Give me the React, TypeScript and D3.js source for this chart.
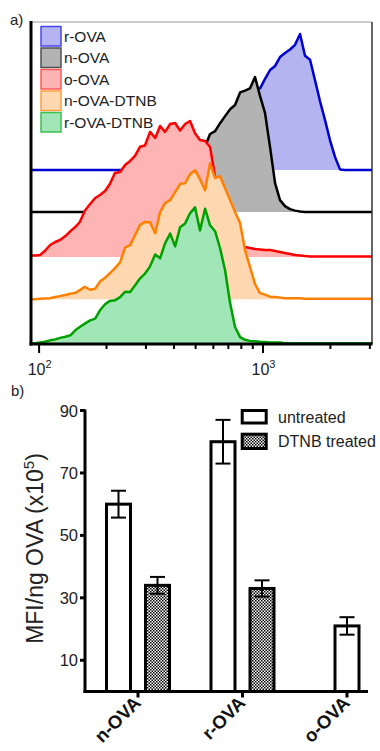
import React, { useEffect, useRef } from 'react';
import * as d3 from 'd3';

// panel a: histogram bins (fluorescence) and normalised counts (% of max)
const bins = [92, 96, 101, 106, 112, 118, 124, 131, 138, 145,
  152, 160, 169, 178, 187, 197, 207, 218, 230, 242,
  255, 268, 282, 297, 313, 330, 347, 365, 385, 405,
  426, 449, 472, 497, 523, 551, 580, 611, 643, 677,
  713, 750, 790, 831, 875, 921, 970, 1021, 1075, 1132,
  1191, 1254, 1320, 1390, 1463, 1540, 1622, 1707, 1796, 1891,
  1991, 2096, 2207, 2323, 2445, 2574, 2710, 2853, 3003, 3067];

const rOVA = [0, 0, 0, 0, 0, 0, 0, 0, 0, 0,
  0, 0, 0, 0, 0, 0, 0, 0, 0, 0,
  0, 0, 0, 0, 0, 0, 0, 0, 0, 0,
  0, 0, 0, 0, 3, 6, 10, 15, 21, 27,
  33, 40, 46, 52, 56, 60, 60, 67, 73.5, 76.5,
  83, 86, 88.6, 92, 100, 84, 81, 66, 50.7, 36.8,
  22, 9.6, 0.4, 0, 0, 0, 0, 0, 0, 0];

const nOVA = [0, 0, 0, 0, 0, 0, 0, 0, 0, 0,
  0, 0, 0, 0, 0, 0, 0, 0, 0, 0.5,
  1.5, 3, 5, 7.5, 10, 13, 16, 19.5, 23, 26.5,
  30, 33.5, 37, 40.5, 44, 48, 57.4, 59.6, 65.4, 70.6,
  75.7, 78.7, 88, 89.3, 91, 99.3, 85.3, 72.8, 47.8, 21.3,
  8.8, 4.4, 2.2, 1.1, 0.4, 0, 0, 0, 0, 0,
  0, 0, 0, 0, 0, 0, 0, 0, 0, 0];

const oOVA = [1, 1, 1.5, 4.4, 8.8, 11, 12.5, 15.4, 19, 22,
  25.7, 34, 39, 43.4, 45.6, 48.5, 53.7, 61.8, 62.5, 67.6,
  70.6, 74.3, 81, 82, 92, 87.5, 96.3, 92, 97.8, 98.5,
  93, 97.8, 100, 91, 86, 85.3, 80.9, 59, 45.6, 33,
  21, 14, 9.6, 7.4, 6.6, 5.9, 5.5, 5.1, 5.1, 4.4,
  3.7, 2.9, 2.2, 1.5, 1.1, 0.7, 0.4, 0.3, 0.3, 0.3,
  0.3, 0.3, 0.3, 0.3, 0.3, 0.3, 0.3, 0.3, 0.3, 0.3];

const nOVADTNB = [0, 0, 0.2, 0.4, 0.7, 1.5, 2.2, 3, 4, 4.6,
  6.6, 9, 6.9, 7.6, 12.9, 15.8, 19, 22.8, 27, 37.9,
  39.7, 47, 54.4, 56.8, 56.6, 48.5, 64, 70.6, 72.8, 78.7,
  84.6, 85.3, 91.9, 94.8, 88.2, 80, 100, 89, 90.4, 81.6,
  72.8, 64, 55.9, 36, 23.5, 11, 4.4, 3.3, 1.8, 1.5,
  1.1, 0.7, 0.7, 0.7, 0.7, 0.3, 0.3, 0.3, 0.3, 0.3,
  0.3, 0.3, 0.3, 0.3, 0.3, 0.3, 0.3, 0.3, 0.3, 0.3];

const rOVADTNB = [0, 0, 0.7, 1.1, 2.2, 2.9, 4, 4.8, 5.9, 9.6,
  12, 14.5, 16.9, 18.2, 24.3, 28.7, 31.2, 31.6, 34, 37.9,
  37.7, 42.6, 47.6, 51.2, 56.6, 65.4, 62.5, 73.5, 80.7, 71.3,
  85.3, 88.2, 95.6, 100, 83, 99, 86.8, 82.4, 69.9, 53.7,
  29.4, 12, 4.6, 2.6, 1.8, 1.5, 1.1, 1, 0.6, 0.6,
  0.6, 0, 0, 0, 0, 0, 0, 0, 0, 0,
  0, 0, 0, 0, 0, 0, 0, 0, 0, 0];

const histNames = ['r-OVA', 'n-OVA', 'o-OVA', 'n-OVA-DTNB', 'r-OVA-DTNB'];
const histTicks = [100, 200, 300, 400, 500, 600, 700, 800, 900, 1000, 2000, 3000];

// panel b: MFI per ng OVA (x10^5)
const groups = ['n-OVA', 'r-OVA', 'o-OVA'];
const untreated = [60, 80, 21];
const untreatedErr = [4.3, 7, 2.8];
const dtnbTreated = [34, 33, null];
const dtnbErr = [2.7, 2.6, null];
const barTicks = [10, 30, 50, 70, 90];

const FONT = '"Liberation Sans", Arial, Helvetica, sans-serif';

const App = () => {
  const svgRef = useRef(null);

  useEffect(() => {
    const svg = d3.select(svgRef.current);
    svg.selectAll('*').remove();

    const defs = svg.append('defs');
    const pat = defs.append('pattern')
      .attr('id', 'check')
      .attr('width', 3).attr('height', 3)
      .attr('patternUnits', 'userSpaceOnUse');
    pat.append('rect').attr('width', 3).attr('height', 3).attr('fill', '#fff');
    pat.append('rect').attr('width', 1.5).attr('height', 1.5).attr('fill', '#000');
    pat.append('rect').attr('x', 1.5).attr('y', 1.5).attr('width', 1.5).attr('height', 1.5).attr('fill', '#000');
    defs.append('clipPath').attr('id', 'clipA')
      .append('rect').attr('x', 31).attr('y', 22).attr('width', 341).attr('height', 322);

    // ---------- panel a ----------
    const x = d3.scaleLog().domain([92, 3067]).range([31, 372]);
    const y = d3.scaleLinear().domain([0, 236.8]).range([344, 22]);

    const series = [
      { name: 'r-OVA', values: rOVA, offset: 128, line: '#0000d0', fill: '#b4b4f0', box: '#4646f0' },
      { name: 'n-OVA', values: nOVA, offset: 97, line: '#000000', fill: '#b3b3b3', box: '#505050' },
      { name: 'o-OVA', values: oOVA, offset: 64, line: '#ff0000', fill: '#ffb4b4', box: '#ff5a5a' },
      { name: 'n-OVA-DTNB', values: nOVADTNB, offset: 33, line: '#ff8000', fill: '#ffd8b2', box: '#ffa040' },
      { name: 'r-OVA-DTNB', values: rOVADTNB, offset: 0.5, line: '#00a000', fill: '#a0e6b6', box: '#3cc050' },
    ];

    const plotA = svg.append('g').attr('clip-path', 'url(#clipA)');
    series.forEach(s => {
      const area = d3.area()
        .x((d, i) => x(bins[i]))
        .y0(y(s.offset))
        .y1(d => y(s.offset + d));
      const line = d3.line()
        .x((d, i) => x(bins[i]))
        .y(d => y(s.offset + d));
      plotA.append('path').attr('d', area(s.values)).attr('fill', s.fill);
      plotA.append('path').attr('d', line(s.values))
        .attr('fill', 'none').attr('stroke', s.line)
        .attr('stroke-width', 2.5).attr('stroke-linejoin', 'round');
    });

    // frame
    svg.append('line').attr('x1', 31).attr('x2', 372).attr('y1', 22).attr('y2', 22)
      .attr('stroke', '#999').attr('stroke-width', 1);
    svg.append('line').attr('x1', 372).attr('x2', 372).attr('y1', 22).attr('y2', 344)
      .attr('stroke', '#333').attr('stroke-width', 1.5);
    svg.append('line').attr('x1', 31).attr('x2', 31).attr('y1', 21).attr('y2', 345.5)
      .attr('stroke', '#000').attr('stroke-width', 3);
    svg.append('line').attr('x1', 29.5).attr('x2', 372.5).attr('y1', 344).attr('y2', 344)
      .attr('stroke', '#000').attr('stroke-width', 3);

    histTicks.forEach(t => {
      const major = t === 100 || t === 1000;
      svg.append('line')
        .attr('x1', x(t)).attr('x2', x(t))
        .attr('y1', 344).attr('y2', 344 + (major ? 9 : 5))
        .attr('stroke', '#000').attr('stroke-width', 2);
    });
    [[100, '2'], [1000, '3']].forEach(([t, p]) => {
      const txt = svg.append('text')
        .attr('x', x(t as number) + 0.5).attr('y', 375)
        .attr('text-anchor', 'middle')
        .attr('font-family', FONT).attr('font-size', 16).attr('fill', '#222');
      txt.append('tspan').text('10');
      txt.append('tspan').attr('dy', -7).attr('font-size', 11).text(p as string);
    });

    // legend a
    histNames.forEach((n, i) => {
      const s = series[i];
      svg.append('rect')
        .attr('x', 41).attr('y', 26.5 + i * 21.5)
        .attr('width', 20).attr('height', 19.5)
        .attr('fill', s.fill).attr('stroke', s.box).attr('stroke-width', 1.5);
      svg.append('text')
        .attr('x', 64).attr('y', 41.8 + i * 21.5)
        .attr('font-family', FONT).attr('font-size', 15.5).attr('fill', '#222')
        .text(n);
    });

    svg.append('text').attr('x', 10).attr('y', 25)
      .attr('font-family', FONT).attr('font-size', 15).attr('fill', '#222').text('a)');

    // ---------- panel b ----------
    const xb = d3.scalePoint().domain(groups).range([138, 347]);
    const yb = d3.scaleLinear().domain([0, 90]).range([691.5, 410.5]);
    const half = 19.5;
    const barW = 24;

    const bars = [];
    groups.forEach((g, i) => {
      const c = xb(g);
      if (dtnbTreated[i] == null) {
        bars.push({ cx: c, v: untreated[i], e: untreatedErr[i], fill: '#fff' });
      } else {
        bars.push({ cx: c - half, v: untreated[i], e: untreatedErr[i], fill: '#fff' });
        bars.push({ cx: c + half, v: dtnbTreated[i], e: dtnbErr[i], fill: 'url(#check)' });
      }
    });

    const gb = svg.append('g');
    gb.selectAll('.bar')
      .data(bars)
      .enter().append('rect')
      .attr('class', 'bar')
      .attr('x', d => d.cx - barW / 2)
      .attr('y', d => yb(d.v))
      .attr('width', barW)
      .attr('height', d => yb(0) - yb(d.v))
      .attr('fill', d => d.fill)
      .attr('stroke', '#000').attr('stroke-width', 3);

    bars.forEach(d => {
      gb.append('line').attr('x1', d.cx).attr('x2', d.cx)
        .attr('y1', yb(d.v + d.e)).attr('y2', yb(d.v - d.e))
        .attr('stroke', '#000').attr('stroke-width', 2);
      [d.v + d.e, d.v - d.e].forEach(v => {
        gb.append('line').attr('x1', d.cx - 7.5).attr('x2', d.cx + 7.5)
          .attr('y1', yb(v)).attr('y2', yb(v))
          .attr('stroke', '#000').attr('stroke-width', 2);
      });
    });

    // axes b
    svg.append('line').attr('x1', 85).attr('x2', 85).attr('y1', 409.5).attr('y2', 693)
      .attr('stroke', '#000').attr('stroke-width', 3);
    svg.append('line').attr('x1', 83.5).attr('x2', 368).attr('y1', yb(0)).attr('y2', yb(0))
      .attr('stroke', '#000').attr('stroke-width', 3);
    barTicks.forEach(t => {
      svg.append('line').attr('x1', 80).attr('x2', 85).attr('y1', yb(t)).attr('y2', yb(t))
        .attr('stroke', '#000').attr('stroke-width', 3);
      svg.append('text')
        .attr('x', 78).attr('y', yb(t) + 6)
        .attr('text-anchor', 'end')
        .attr('font-family', FONT).attr('font-size', 16.5).attr('fill', '#222')
        .text(t);
    });
    groups.forEach(g => {
      const c = xb(g);
      svg.append('line').attr('x1', c).attr('x2', c).attr('y1', yb(0)).attr('y2', yb(0) + 6)
        .attr('stroke', '#000').attr('stroke-width', 3);
      svg.append('text')
        .attr('transform', `translate(${c + 4}, 704) rotate(-45)`)
        .attr('text-anchor', 'end')
        .attr('font-family', FONT).attr('font-size', 18.5).attr('font-weight', 'bold')
        .attr('fill', '#111')
        .text(g);
    });

    const yt = svg.append('text')
      .attr('transform', 'translate(43, 548.5) rotate(-90)')
      .attr('text-anchor', 'middle')
      .attr('font-family', FONT).attr('font-size', 23).attr('fill', '#222');
    yt.append('tspan').text('MFI/ng OVA (x10');
    yt.append('tspan').attr('dy', -9).attr('font-size', 15).text('5');
    yt.append('tspan').attr('dy', 9).text(')');

    // legend b
    svg.append('rect').attr('x', 242.2).attr('y', 410.5).attr('width', 24).attr('height', 12.5)
      .attr('fill', '#fff').attr('stroke', '#000').attr('stroke-width', 3);
    svg.append('rect').attr('x', 242.2).attr('y', 434.2).attr('width', 24).attr('height', 14.3)
      .attr('fill', 'url(#check)').attr('stroke', '#000').attr('stroke-width', 3);
    svg.append('text').attr('x', 278).attr('y', 422.5)
      .attr('font-family', FONT).attr('font-size', 16).attr('fill', '#222').text('untreated');
    svg.append('text').attr('x', 278).attr('y', 446.5)
      .attr('font-family', FONT).attr('font-size', 16).attr('fill', '#222').text('DTNB treated');

    svg.append('text').attr('x', 11).attr('y', 396)
      .attr('font-family', FONT).attr('font-size', 15).attr('fill', '#222').text('b)');
  }, []);

  return (
    <svg
      ref={svgRef}
      width={380}
      height={751}
      style={{ position: 'absolute', left: 0, top: 0, background: '#fff' }}
    />
  );
};

export default App;
